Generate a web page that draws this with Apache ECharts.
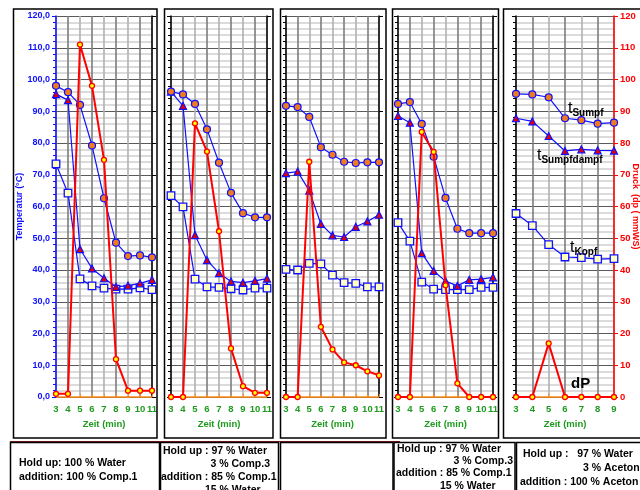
<!DOCTYPE html>
<html><head><meta charset="utf-8">
<script src="https://cdn.jsdelivr.net/npm/echarts@6/dist/echarts.min.js"></script>
<style>html,body{margin:0;padding:0;background:#fff}#c{width:640px;height:490px}</style>
</head><body><div id="c"></div>
<script>
// ---- data ----
const cats9 = ['3','4','5','6','7','8','9','10','11'];
const cats7 = ['3','4','5','6','7','8','9'];

const p1Sumpf = [98, 96, 92, 79.2, 62.6, 48.6, 44.4, 44.6, 44.0];
const p1Dampf = [95.4, 93.5, 46.6, 40.5, 37.4, 34.7, 35.1, 35.8, 36.9];
const p1Kopf  = [73.4, 64.2, 37.2, 35.0, 34.3, 34.0, 34.0, 34.4, 33.8];
const p1dP    = [1, 1, 111, 98, 74.7, 11.9, 2, 2, 2];

const p2Sumpf = [96.2, 95.3, 92.3, 84.3, 73.8, 64.3, 57.9, 56.6, 56.6];
const p2Dampf = [96.2, 91.7, 51.0, 43.1, 39.0, 36.4, 36.0, 36.6, 37.3];
const p2Kopf  = [63.4, 59.9, 37.1, 34.7, 34.5, 34.1, 33.7, 34.3, 34.3];
const p2dP    = [0, 0, 86.2, 77.3, 52.2, 15.3, 3.4, 1.3, 1.3];

const p3Sumpf = [91.7, 91.3, 88.2, 78.7, 76.3, 74.1, 73.7, 73.9, 73.9];
const p3Dampf = [70.5, 71.0, 65.0, 54.5, 50.9, 50.4, 53.6, 55.3, 57.4];
const p3Kopf  = [40.2, 40.0, 42.1, 41.9, 38.4, 36.0, 35.8, 34.7, 34.7];
const p3dP    = [0, 0, 74.1, 22.1, 15.0, 10.9, 10.0, 8.1, 6.8];

const p4Sumpf = [92.3, 92.9, 86.0, 75.7, 62.7, 53.0, 51.6, 51.6, 51.6];
const p4Dampf = [88.5, 86.4, 45.3, 39.7, 36.5, 35.0, 36.9, 37.1, 37.7];
const p4Kopf  = [54.9, 49.1, 36.2, 34.0, 33.8, 33.8, 33.8, 34.5, 34.5];
const p4dP    = [0, 0, 83.5, 77.2, 35.2, 4.3, 0, 0, 0];

const p5Sumpf = [95.5, 95.3, 94.4, 87.8, 87.2, 86.1, 86.4];
const p5Dampf = [87.8, 86.8, 82.2, 77.5, 78.0, 77.7, 77.6];
const p5Kopf  = [57.8, 54.0, 48.0, 44.1, 43.9, 43.4, 43.6];
const p5dP    = [0, 0, 16.9, 0, 0, 0, 0];

const yMin = 0, yMax = 120, yStep = 10;

// ---- build ----
const FONT = 'Liberation Sans, Arial, sans-serif';
const BLUE = '#1010ff';
const panels = [
  {cats: cats9, s: p1Sumpf, d: p1Dampf, k: p1Kopf, p: p1dP, left: 56, width: 96},
  {cats: cats9, s: p2Sumpf, d: p2Dampf, k: p2Kopf, p: p2dP, left: 171, width: 96},
  {cats: cats9, s: p3Sumpf, d: p3Dampf, k: p3Kopf, p: p3dP, left: 286, width: 93},
  {cats: cats9, s: p4Sumpf, d: p4Dampf, k: p4Kopf, p: p4dP, left: 398, width: 95},
  {cats: cats7, s: p5Sumpf, d: p5Dampf, k: p5Kopf, p: p5dP, left: 516, width: 98}
];
const grid = [], xAxis = [], yAxis = [], series = [];
panels.forEach((pn, i) => {
  grid.push({left: pn.left, width: pn.width, top: 16, height: 381, containLabel: false, outerBoundsMode: 'none'});
  xAxis.push({
    type: 'category', gridIndex: i, data: pn.cats, boundaryGap: false,
    axisLine: {lineStyle: {color: '#ff8c1a', width: 1.5}},
    axisTick: {show: true, length: 3, inside: true, interval: 0, lineStyle: {color: '#ff8c1a'}},
    axisLabel: {color: '#1e9a1e', fontWeight: 'bold', fontSize: 9.5, fontFamily: FONT, margin: 7, interval: 0},
    splitLine: {show: true, interval: 0, lineStyle: {color: ['#b0b0b0', '#7c7c7c'], width: 1.6}},
    name: 'Zeit (min)', nameLocation: 'middle', nameGap: 22,
    nameTextStyle: {color: '#1e9a1e', fontWeight: 'bold', fontSize: 9.5, fontFamily: FONT}
  });
  const isFirst = i === 0;
  const leftColor = isFirst ? BLUE : '#000';
  yAxis.push({
    type: 'value', gridIndex: i, min: yMin, max: yMax, interval: yStep, position: 'left',
    axisLine: {show: true, lineStyle: {color: leftColor, width: 1.5}},
    axisTick: {show: true, length: 4, lineStyle: {color: leftColor}},
    minorTick: {show: true, splitNumber: 5, length: 3, lineStyle: {color: leftColor}},
    axisLabel: {show: isFirst, color: BLUE, fontWeight: 'bold', fontSize: 9, fontFamily: FONT, margin: 6,
      formatter: v => v.toFixed(1).replace('.', ',')},
    splitLine: {show: true, lineStyle: {color: '#5a5a5a', width: 1}},
    minorSplitLine: {show: true, lineStyle: {color: '#cfcfcf', width: 1.6}},
    name: isFirst ? 'Temperatur (°C)' : '', nameLocation: 'middle', nameGap: 32, nameRotate: 90,
    nameTextStyle: {color: BLUE, fontWeight: 'bold', fontSize: 9, fontFamily: FONT}
  });
  const isLast = i === 4;
  const rc = isLast ? '#ff0000' : '#000';
  yAxis.push({
    type: 'value', gridIndex: i, min: yMin, max: yMax, interval: yStep, position: 'right',
    axisLine: {show: true, lineStyle: {color: rc, width: 1.5}},
    axisTick: {show: true, length: 4, lineStyle: {color: rc}},
    axisLabel: {show: isLast, color: '#ff0000', fontWeight: 'bold', fontSize: 9.5, fontFamily: FONT, margin: 6},
    splitLine: {show: false},
    name: isLast ? 'Druck  (dp ( mmWS)' : '', nameLocation: 'middle', nameGap: 17, nameRotate: -90,
    nameMoveOverlap: false,
    nameTextStyle: {color: '#ff0000', fontWeight: 'bold', fontSize: 9, fontFamily: FONT}
  });
  const yi = i * 2;
  const blueLine = {color: BLUE, width: 1.2};
  series.push({type: 'line', xAxisIndex: i, yAxisIndex: yi, data: pn.k, symbol: 'rect', symbolSize: 7.5,
    lineStyle: blueLine, itemStyle: {color: '#ffffc0', borderColor: BLUE, borderWidth: 1.3}, animation: false, z: 3});
  series.push({type: 'line', xAxisIndex: i, yAxisIndex: yi, data: pn.d, symbol: 'triangle', symbolSize: 7,
    lineStyle: blueLine, itemStyle: {color: '#e00000', borderColor: BLUE, borderWidth: 1.2}, animation: false, z: 3});
  series.push({type: 'line', xAxisIndex: i, yAxisIndex: yi, data: pn.s, symbol: 'circle', symbolSize: 7,
    lineStyle: blueLine, itemStyle: {color: '#f07a1e', borderColor: BLUE, borderWidth: 1.2}, animation: false, z: 3});
  series.push({type: 'line', xAxisIndex: i, yAxisIndex: yi, data: pn.p, symbol: 'circle', symbolSize: 5,
    lineStyle: {color: '#ff0000', width: 2}, itemStyle: {color: '#ffff00', borderColor: '#ff0000', borderWidth: 1.3}, animation: false, z: 4});
});

const frame = (x, y, w, h) => ({type: 'rect', shape: {x, y, width: w, height: h},
  style: {fill: 'none', stroke: '#000', lineWidth: 1.5}, z: 10});
const txt = (x, y, t, opt) => Object.assign({type: 'text', x, y, style: Object.assign({text: t, fill: '#000',
  font: 'bold 10.5px ' + FONT, textVerticalAlign: 'middle'}, opt || {}), z: 11});
const rich = (x, y, main, sub) => ({type: 'text', x, y, z: 11, style: {
  text: '{a|' + main + '}{b|' + sub + '}', textVerticalAlign: 'bottom',
  rich: {a: {fontSize: 16, fontFamily: FONT, fill: '#000', verticalAlign: 'bottom'},
         b: {fontSize: 10, fontWeight: 'bold', fontFamily: FONT, fill: '#000', verticalAlign: 'bottom', padding: [0,0,-1,0]}}}});

const graphic = [
  frame(13.5, 9, 143.5, 429), frame(164.5, 9, 108.5, 429), frame(280.5, 9, 105.5, 429),
  frame(392.5, 9, 106, 429), frame(503.5, 9, 140, 429),
  {type: 'line', shape: {x1: 10, y1: 441.5, x2: 400, y2: 441.5}, style: {stroke: '#8b1a1a', lineWidth: 1}, z: 9},
  frame(10.5, 442.5, 149, 50), frame(160.5, 442.5, 118, 50), frame(280.5, 442.5, 112.5, 50),
  frame(394, 442.5, 121, 50), frame(516.5, 442.5, 126, 50),
  txt(19, 463, 'Hold up: 100 % Water'), txt(19, 477, 'addition: 100 % Comp.1'),
  txt(163, 451, 'Hold up : 97 % Water'), txt(270, 464, '3 % Comp.3', {textAlign: 'right'}),
  txt(161, 477, 'addition : 85 % Comp.1'), txt(205, 490, '15 % Water'),
  txt(397, 449, 'Hold up : 97 % Water'), txt(513, 461, '3 % Comp.3', {textAlign: 'right'}),
  txt(396, 473, 'addition : 85 % Comp.1'), txt(440, 486, '15 % Water'),
  txt(523, 454, 'Hold up :   97 % Water'), txt(583, 468, '3 % Aceton'),
  txt(520, 482, 'addition : 100 % Aceton'),
  rich(568, 117, 't', 'Sumpf'), rich(537, 164, 't', 'Sumpfdampf'), rich(570, 256, 't', 'Kopf'),
  {type: 'text', x: 571, y: 391, z: 11, style: {text: 'dP', font: 'bold 15px ' + FONT, fill: '#000', textVerticalAlign: 'bottom'}}
];

const chart = echarts.init(document.getElementById('c'), null, {renderer: 'canvas'});
chart.setOption({animation: false, backgroundColor: '#fff', grid, xAxis, yAxis, series, graphic});
</script></body></html>
